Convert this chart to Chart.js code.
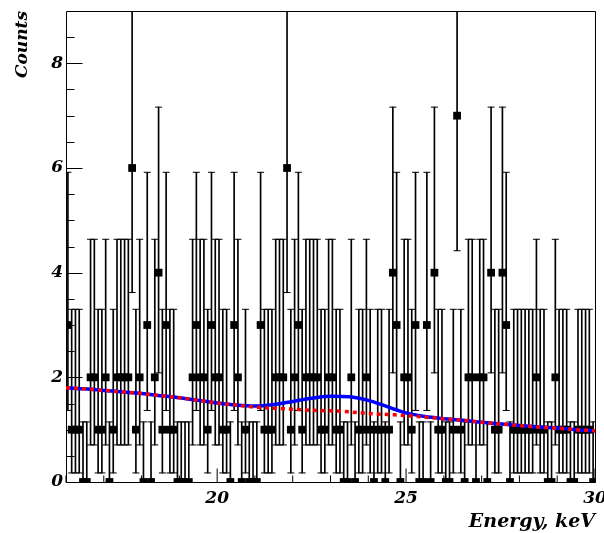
<!DOCTYPE html>
<html><head><meta charset="utf-8">
<script src="https://cdn.jsdelivr.net/npm/chart.js@4.4.1/dist/chart.umd.min.js"></script>
<style>html,body{margin:0;padding:0;background:#fff;}#wrap{width:604px;height:533px;}</style>
</head><body><div id="wrap"><canvas id="c" width="604" height="533"></canvas></div>
<script>
// Histogram definition: 140 bins of 0.1 keV starting at 16 keV
const binStart = 16;
const binWidth = 0.1;
const counts = [
  3,1,1,1,0,0,2,2,1,1,
  2,0,1,2,2,2,2,6,1,2,
  0,3,0,2,4,1,3,1,1,0,
  0,0,0,2,3,2,2,1,3,2,
  2,1,1,0,3,2,0,1,0,0,
  0,3,1,1,1,2,2,2,6,1,
  2,3,1,2,2,2,2,1,1,2,
  2,1,1,0,0,2,0,1,1,2,
  1,0,1,1,0,1,4,3,0,2,
  2,1,3,0,0,3,0,4,1,1,
  0,0,1,7,1,0,2,2,0,2,
  2,0,4,1,1,4,3,0,1,1,
  1,1,1,1,2,1,1,0,0,2,
  1,1,1,0,0,1,1,1,1,0
];
// Error bar ends for a given count (read from the caps)
const errLowByCount  = [0, 0.173, 0.708, 1.367, 2.086, 2.840, 3.620, 4.419];
const errHighByCount = [1.148, 3.300, 4.638, 5.918, 7.163, 8.382, 9.584, 10.77];

// Fit curves
const curveEnergy = [16,16.5,17,17.5,18,18.5,19,19.5,20,20.5,21,21.5,22,22.5,23,23.5,24,24.5,25,25.5,26,26.5,27,27.5,28,28.5,29,29.5,30];
const backgroundFit = [1.80,1.78,1.75,1.72,1.69,1.65,1.61,1.56,1.51,1.47,1.43,1.41,1.39,1.37,1.36,1.34,1.31,1.29,1.27,1.24,1.21,1.18,1.14,1.11,1.08,1.05,1.03,1.00,0.98];
const totalFit      = [1.80,1.78,1.75,1.72,1.69,1.65,1.61,1.56,1.51,1.47,1.45,1.48,1.54,1.60,1.64,1.63,1.56,1.44,1.32,1.25,1.21,1.18,1.14,1.11,1.08,1.05,1.03,1.00,0.98];

// Axis ticks
const xTickLabels = [20, 25, 30];
const xMinorTicks = [16,17,18,19,21,22,23,24,26,27,28,29];
const yTickLabels = [0, 2, 4, 6, 8];
const yMinorTicks = [0.5,1,1.5,2.5,3,3.5,4.5,5,5.5,6.5,7,7.5,8.5];

const centers = counts.map((c, i) => +(binStart + binWidth * (i + 0.5)).toFixed(3));
const markerData = counts.map((c, i) => ({x: centers[i], y: c}));
const barData = counts.map((c, i) => ({x: centers[i], y: [errLowByCount[c], errHighByCount[c]]}));
const capData = [];
counts.forEach((c, i) => { capData.push({x: centers[i], y: errLowByCount[c]}); capData.push({x: centers[i], y: errHighByCount[c]}); });
const bgData = curveEnergy.map((e, i) => ({x: e, y: backgroundFit[i]}));
const totData = curveEnergy.map((e, i) => ({x: e, y: totalFit[i]}));

const rootFont = {family: 'DejaVu Serif', size: 17, style: 'italic', weight: 'bold', lineHeight: 1};

const framePlugin = {
  id: 'rootFrame',
  beforeDatasetsDraw(chart) {
    const {ctx, chartArea: a, scales: {x, y}} = chart;
    ctx.save();
    ctx.strokeStyle = '#000';
    ctx.lineWidth = 1;
    ctx.beginPath();
    ctx.rect(Math.round(a.left) + 0.5, Math.round(a.top) + 0.5, Math.round(a.right - a.left), Math.round(a.bottom - a.top));
    ctx.stroke();
    ctx.beginPath();
    const yb = Math.round(a.bottom) + 0.5;
    xTickLabels.forEach(v => { const px = x.getPixelForValue(v); ctx.moveTo(px, yb); ctx.lineTo(px, yb - 14); });
    xMinorTicks.forEach(v => { const px = x.getPixelForValue(v); ctx.moveTo(px, yb); ctx.lineTo(px, yb - 7); });
    const xl = Math.round(a.left) + 0.5;
    yTickLabels.forEach(v => { const py = Math.round(y.getPixelForValue(v)) + 0.5; ctx.moveTo(xl, py); ctx.lineTo(xl + 16, py); });
    yMinorTicks.forEach(v => { const py = Math.round(y.getPixelForValue(v)) + 0.5; ctx.moveTo(xl, py); ctx.lineTo(xl + 8, py); });
    ctx.stroke();
    ctx.restore();
  }
};

new Chart(document.getElementById('c'), {
  type: 'scatter',
  data: {
    datasets: [
      {type: 'line', label: 'background', data: bgData, borderColor: '#ff0000', borderWidth: 3.5, borderDash: [4, 4], pointRadius: 0, fill: false, cubicInterpolationMode: 'monotone'},
      {type: 'line', label: 'fit', data: totData, borderColor: '#0000ff', borderWidth: 3.5, pointRadius: 0, fill: false, cubicInterpolationMode: 'monotone'},
      {label: 'counts', data: markerData, pointStyle: 'rect', pointRadius: 5.5, pointBackgroundColor: '#000', pointBorderWidth: 0, showLine: false},
      {label: 'caps', data: capData, pointStyle: 'line', pointRadius: 3.5, pointBorderColor: '#000', pointBorderWidth: 1, showLine: false},
      {type: 'bar', label: 'errors', data: barData, backgroundColor: '#000', borderWidth: 0, barThickness: 1, grouped: false}
    ]
  },
  options: {
    responsive: false,
    devicePixelRatio: 1,
    animation: false,
    events: [],
    layout: {padding: {left: 0, right: 9, top: 11, bottom: 0}},
    plugins: {legend: {display: false}, tooltip: {enabled: false}},
    scales: {
      x: {
        type: 'linear', min: 16, max: 30, offset: false,
        grid: {display: false, drawTicks: false},
        border: {display: false},
        ticks: {font: rootFont, color: '#000', padding: 8.5, autoSkip: false, maxRotation: 0, minRotation: 0},
        afterBuildTicks: s => { s.ticks = xTickLabels.map(v => ({value: v})); },
        afterFit: s => { s.height = 51; s.paddingLeft = 0; s.paddingRight = 0; },
        title: {display: true, text: 'Energy, keV', align: 'end', color: '#000', font: {family: 'DejaVu Serif', size: 19, style: 'italic', weight: 'bold', lineHeight: 1}, padding: {top: 0, bottom: 1.5}}
      },
      y: {
        type: 'linear', min: 0, max: 9,
        grid: {display: false, drawTicks: false},
        border: {display: false},
        ticks: {font: rootFont, color: '#000', padding: 3, autoSkip: false},
        afterBuildTicks: s => { s.ticks = yTickLabels.map(v => ({value: v})); },
        afterFit: s => { s.width = 66; s.paddingTop = 0; s.paddingBottom = 0; },
        title: {display: true, text: 'Counts', align: 'end', color: '#000', font: {family: 'DejaVu Serif', size: 17, style: 'italic', weight: 'bold', lineHeight: 1}, padding: {top: 14.5, bottom: 0}}
      }
    }
  },
  plugins: [framePlugin]
});
</script>
</body></html>
